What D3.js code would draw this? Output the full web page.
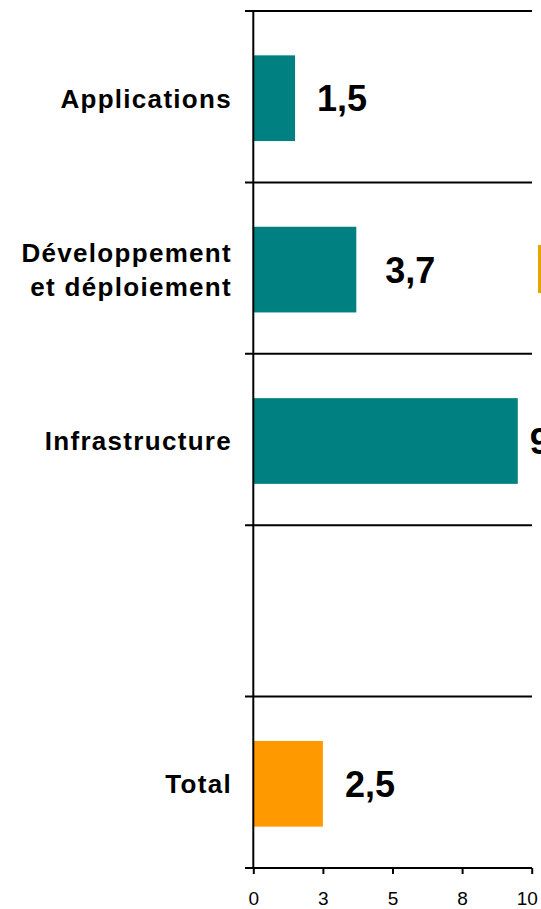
<!DOCTYPE html>
<html><head><meta charset="utf-8">
<script src="https://cdn.jsdelivr.net/npm/d3@7"></script>
<style>body{margin:0;background:#fff}svg{display:block}</style>
</head><body>
<script>
const categories = [["Applications"], ["Développement", "et déploiement"], ["Infrastructure"], [""], ["Total"]];
const values = [1.5, 3.7, 9.5, null, 2.5];
const valueLabels = ["1,5", "3,7", "9,5", "", "2,5"];
const barColors = ["#008080", "#008080", "#008080", "#008080", "#FF9900"];
const tickValues = [0, 2.5, 5, 7.5, 10];
const tickLabels = ["0", "3", "5", "8", "10"];

const W = 541, H = 909;
const svg = d3.select("body").append("svg").attr("width", W).attr("height", H);
const font = "'Liberation Sans', Arial, sans-serif";

const x = d3.scaleLinear().domain([0, 10]).range([253.3, 531.7]);
const ids = categories.map((d, i) => i);
const y = d3.scaleBand().domain(ids).range([11, 868]).paddingInner(0.5).paddingOuter(0.25);
const step = y.step();
const bandTop = i => 11 + i * step;

// label gaps after bar end (as placed in the original)
const labelGap = [22, 29, 12, 0, 22];

// bars
svg.selectAll("rect.bar").data(ids.filter(i => values[i] != null)).enter().append("rect")
  .attr("x", x(0)).attr("y", i => y(i) + 1.5)
  .attr("width", i => x(values[i]) - x(0)).attr("height", y.bandwidth())
  .attr("fill", i => barColors[i]);

// value labels
svg.selectAll("text.val").data(ids.filter(i => values[i] != null)).enter().append("text")
  .attr("x", i => x(values[i]) + labelGap[i]).attr("y", i => y(i) + y.bandwidth() / 2 + 1.5)
  .attr("dy", "0.36em").attr("font-family", font).attr("font-weight", "bold")
  .attr("font-size", 36).attr("fill", "#000").text(i => valueLabels[i]);

// horizontal separators (band boundaries)
const bounds = d3.range(categories.length + 1);
svg.selectAll("line.sep").data(bounds).enter().append("line")
  .attr("x1", 245).attr("x2", 532).attr("y1", i => bandTop(i)).attr("y2", i => bandTop(i))
  .attr("stroke", "#000").attr("stroke-width", 2);

// vertical axis line
svg.append("line").attr("x1", x(0)).attr("x2", x(0)).attr("y1", 11).attr("y2", 868)
  .attr("stroke", "#000").attr("stroke-width", 2);

// x axis
const xAxis = d3.axisBottom(x).tickValues(tickValues).tickSize(6).tickPadding(18)
  .tickFormat((d, i) => tickLabels[i]);
const gx = svg.append("g").attr("transform", "translate(0,868)").call(xAxis);
gx.select(".domain").remove();
gx.selectAll(".tick line").attr("stroke", "#000").attr("stroke-width", 2);
gx.selectAll(".tick text").attr("font-family", font).attr("font-size", 19).attr("fill", "#000")
  .attr("dx", (d, i) => i === tickValues.length - 1 ? -5 : 0);

// category labels
categories.forEach((lines, i) => {
  const cy = y(i) + y.bandwidth() / 2 + 1.5;
  const t = svg.append("text").attr("text-anchor", "end").attr("font-family", font)
    .attr("font-weight", "bold").attr("font-size", 26).attr("letter-spacing", "1.3px").attr("fill", "#000");
  const n = lines.length;
  lines.forEach((ln, k) => {
    t.append("tspan").attr("x", 232).attr("y", cy + (k - (n - 1) / 2) * 34).attr("dy", "0.36em").text(ln);
  });
});

// cropped orange element at right edge
svg.append("rect").attr("x", 538).attr("y", 245).attr("width", 4).attr("height", 48).attr("fill", "#E5A500");
</script>
</body></html>
